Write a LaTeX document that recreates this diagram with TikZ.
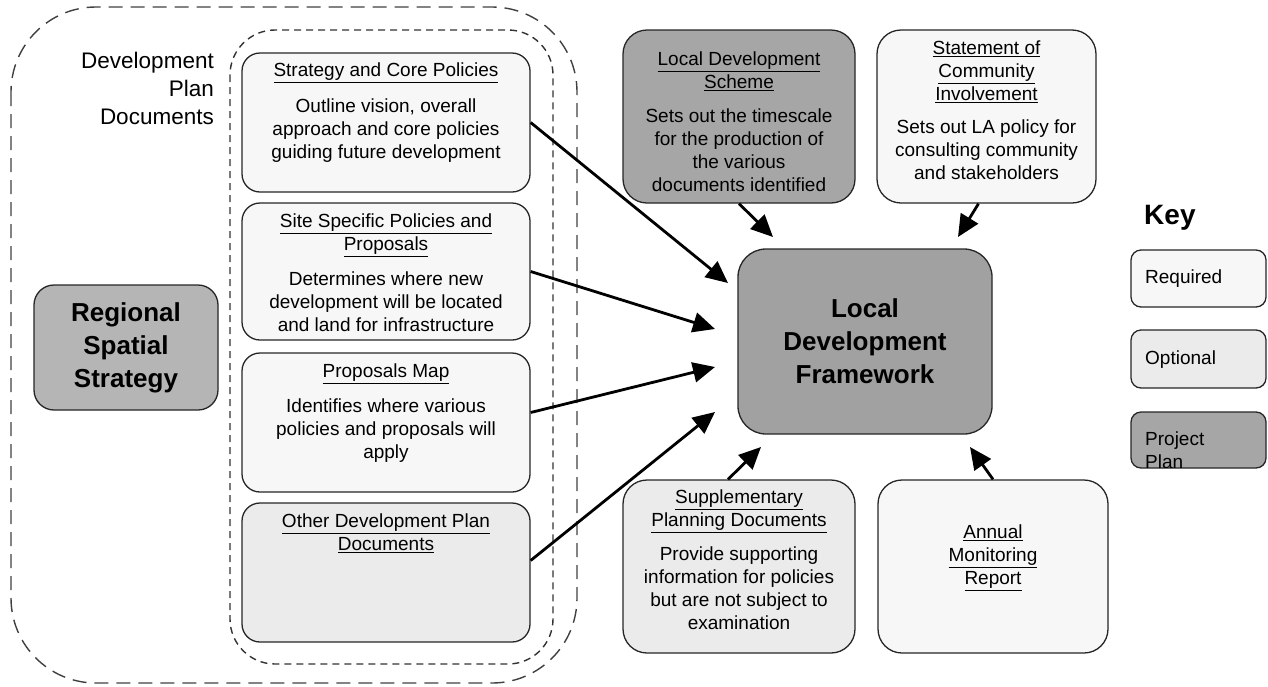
\documentclass[tikz,border=0pt]{standalone}
\usepackage{fontspec}
\setmainfont{Liberation Sans}
\usepackage{tikz}
\usetikzlibrary{arrows.meta}
\tikzset{box/.style={draw=black!85, line width=1.3pt, rounded corners=18pt}}
\tikzset{req/.style={box, fill=black!3}}
\tikzset{opt/.style={box, fill=black!8}}
\tikzset{plan/.style={box, fill=black!35}}
\tikzset{t/.style={align=center, anchor=north, inner sep=0pt}}
\tikzset{big/.style={font=\fontsize{26}{33}\selectfont\bfseries, align=center}}
\tikzset{arr/.style={-{Triangle[length=22pt,width=20pt]}, line width=2.8pt}}
\newcommand{\ul}[1]{\underline{#1}}

\begin{document}
\begin{tikzpicture}[x=1pt,y=-1pt,line join=round]
  \useasboundingbox (0,0) rectangle (1268,686);
  % dashed frames round the plan documents
  \draw [black!75, line width=1.4pt, dash pattern=on 14pt off 8pt, rounded corners=85pt]
    (11,7) rectangle (577,683);
  \draw [black!80, line width=1.4pt, dash pattern=on 7pt off 5pt, rounded corners=45pt]
    (230,30) rectangle (553,664);
  \node [font=\fontsize{22.5}{28}\selectfont, align=right, anchor=north east, inner sep=0pt]
    (dpd) at (214,51.5) {Development\\Plan\\Documents};
  % boxes
  \node [req, minimum width=288pt, minimum height=139pt] (strat) at (386,122.5) {};
  \node [req, minimum width=288pt, minimum height=137pt] (site) at (386,271.5) {};
  \node [req, minimum width=288pt, minimum height=139pt] (prop) at (386,422.5) {};
  \node [opt, minimum width=288pt, minimum height=139pt] (other) at (386,572.5) {};
  \node [box, fill=black!29, rounded corners=20pt, minimum width=184pt, minimum height=125pt, big]
    (rss) at (126,347.5) {Regional\\Spatial\\Strategy};
  \node [plan, rounded corners=24pt, minimum width=232pt, minimum height=173pt] (lds) at (739,116.5) {};
  \node [req, rounded corners=24pt, minimum width=219pt, minimum height=173pt] (soci) at (986.5,116.5) {};
  \node [box, fill=black!37, rounded corners=28pt, minimum width=254pt, minimum height=185pt, big]
    (ldf) at (865,341.5) {Local\\Development\\Framework};
  \node [opt, rounded corners=24pt, minimum width=232pt, minimum height=173pt] (spd) at (739,566.5) {};
  \node [req, rounded corners=24pt, minimum width=230pt, minimum height=173pt] (amr) at (993,566.5) {};
  % box texts
  \begin{scope}[font=\fontsize{19}{23}\selectfont]
    \node [t] (strat-t) at (386,62.5) {\ul{Strategy and Core Policies}\\[13pt]
      Outline vision, overall\\approach and core policies\\guiding future development};
    \node [t] (site-t) at (386,213.5) {\ul{Site Specific Policies and}\\\ul{Proposals}\\[12pt]
      Determines where new\\development will be located\\and land for infrastructure};
    \node [t] (prop-t) at (386,363.5) {\ul{Proposals Map}\\[12pt]
      Identifies where various\\policies and proposals will\\apply};
    \node [t] (other-t) at (386,513.5) {\ul{Other Development Plan}\\\ul{Documents}};
    \node [t] (lds-t) at (739,51.5) {\ul{Local Development}\\\ul{Scheme}\\[11pt]
      Sets out the timescale\\for the production of\\the various\\documents identified};
    \node [t] (soci-t) at (986.5,40.5) {\ul{Statement of}\\\ul{Community}\\\ul{Involvement}\\[10pt]
      Sets out LA policy for\\consulting community\\and stakeholders};
    \node [t] (spd-t) at (739,489.5) {\ul{Supplementary}\\\ul{Planning Documents}\\[11pt]
      Provide supporting\\information for policies\\but are not subject to\\examination};
    \node [t] (amr-t) at (993,524.5) {\ul{Annual}\\\ul{Monitoring}\\\ul{Report}};
  \end{scope}
  % arrows into the framework
  \coordinate (in1) at (728,283);
  \coordinate (in2) at (715,329);
  \coordinate (in3) at (715,367);
  \coordinate (in4) at (715,412);
  \coordinate (in5) at (773,237);
  \coordinate (in6) at (958,237);
  \coordinate (in7) at (761,447);
  \coordinate (in8) at (970,447);
  \draw [arr] (strat.east) -- (in1);
  \draw [arr] (site.east) -- (in2);
  \draw [arr] ([yshift=10pt]prop.east) -- (in3);
  \draw [arr] ([yshift=12pt]other.east) -- (in4);
  \draw [arr] (lds.south) -- (in5);
  \draw [arr] ([xshift=-8pt]soci.south) -- (in6);
  \draw [arr] ([xshift=-11pt]spd.north) -- (in7);
  \draw [arr] (amr.north) -- (in8);
  % key
  \node [font=\fontsize{28}{32}\selectfont\bfseries, anchor=west, inner sep=0pt] (key) at (1144,218) {Key};
  \node [req, rounded corners=10pt, minimum width=135pt, minimum height=57pt] (kreq) at (1198.5,278.5) {};
  \node [opt, rounded corners=10pt, minimum width=135pt, minimum height=58pt] (kopt) at (1198.5,359) {};
  \node [plan, rounded corners=10pt, minimum width=135pt, minimum height=56pt] (kplan) at (1198.5,440) {};
  \begin{scope}[font=\fontsize{19}{23}\selectfont]
    \node [anchor=west, inner sep=0pt] (kreq-t) at (1145,279) {Required};
    \node [anchor=west, inner sep=0pt] (kopt-t) at (1145,360) {Optional};
    \begin{scope}
      \clip ([shift={(1pt,1pt)}]kplan.south west) rectangle ([shift={(-1pt,-1pt)}]kplan.north east);
      \node [anchor=north west, align=left, inner sep=0pt] (kplan-t) at (1145,431.5) {Project\\Plan};
    \end{scope}
  \end{scope}
\end{tikzpicture}
\end{document}
